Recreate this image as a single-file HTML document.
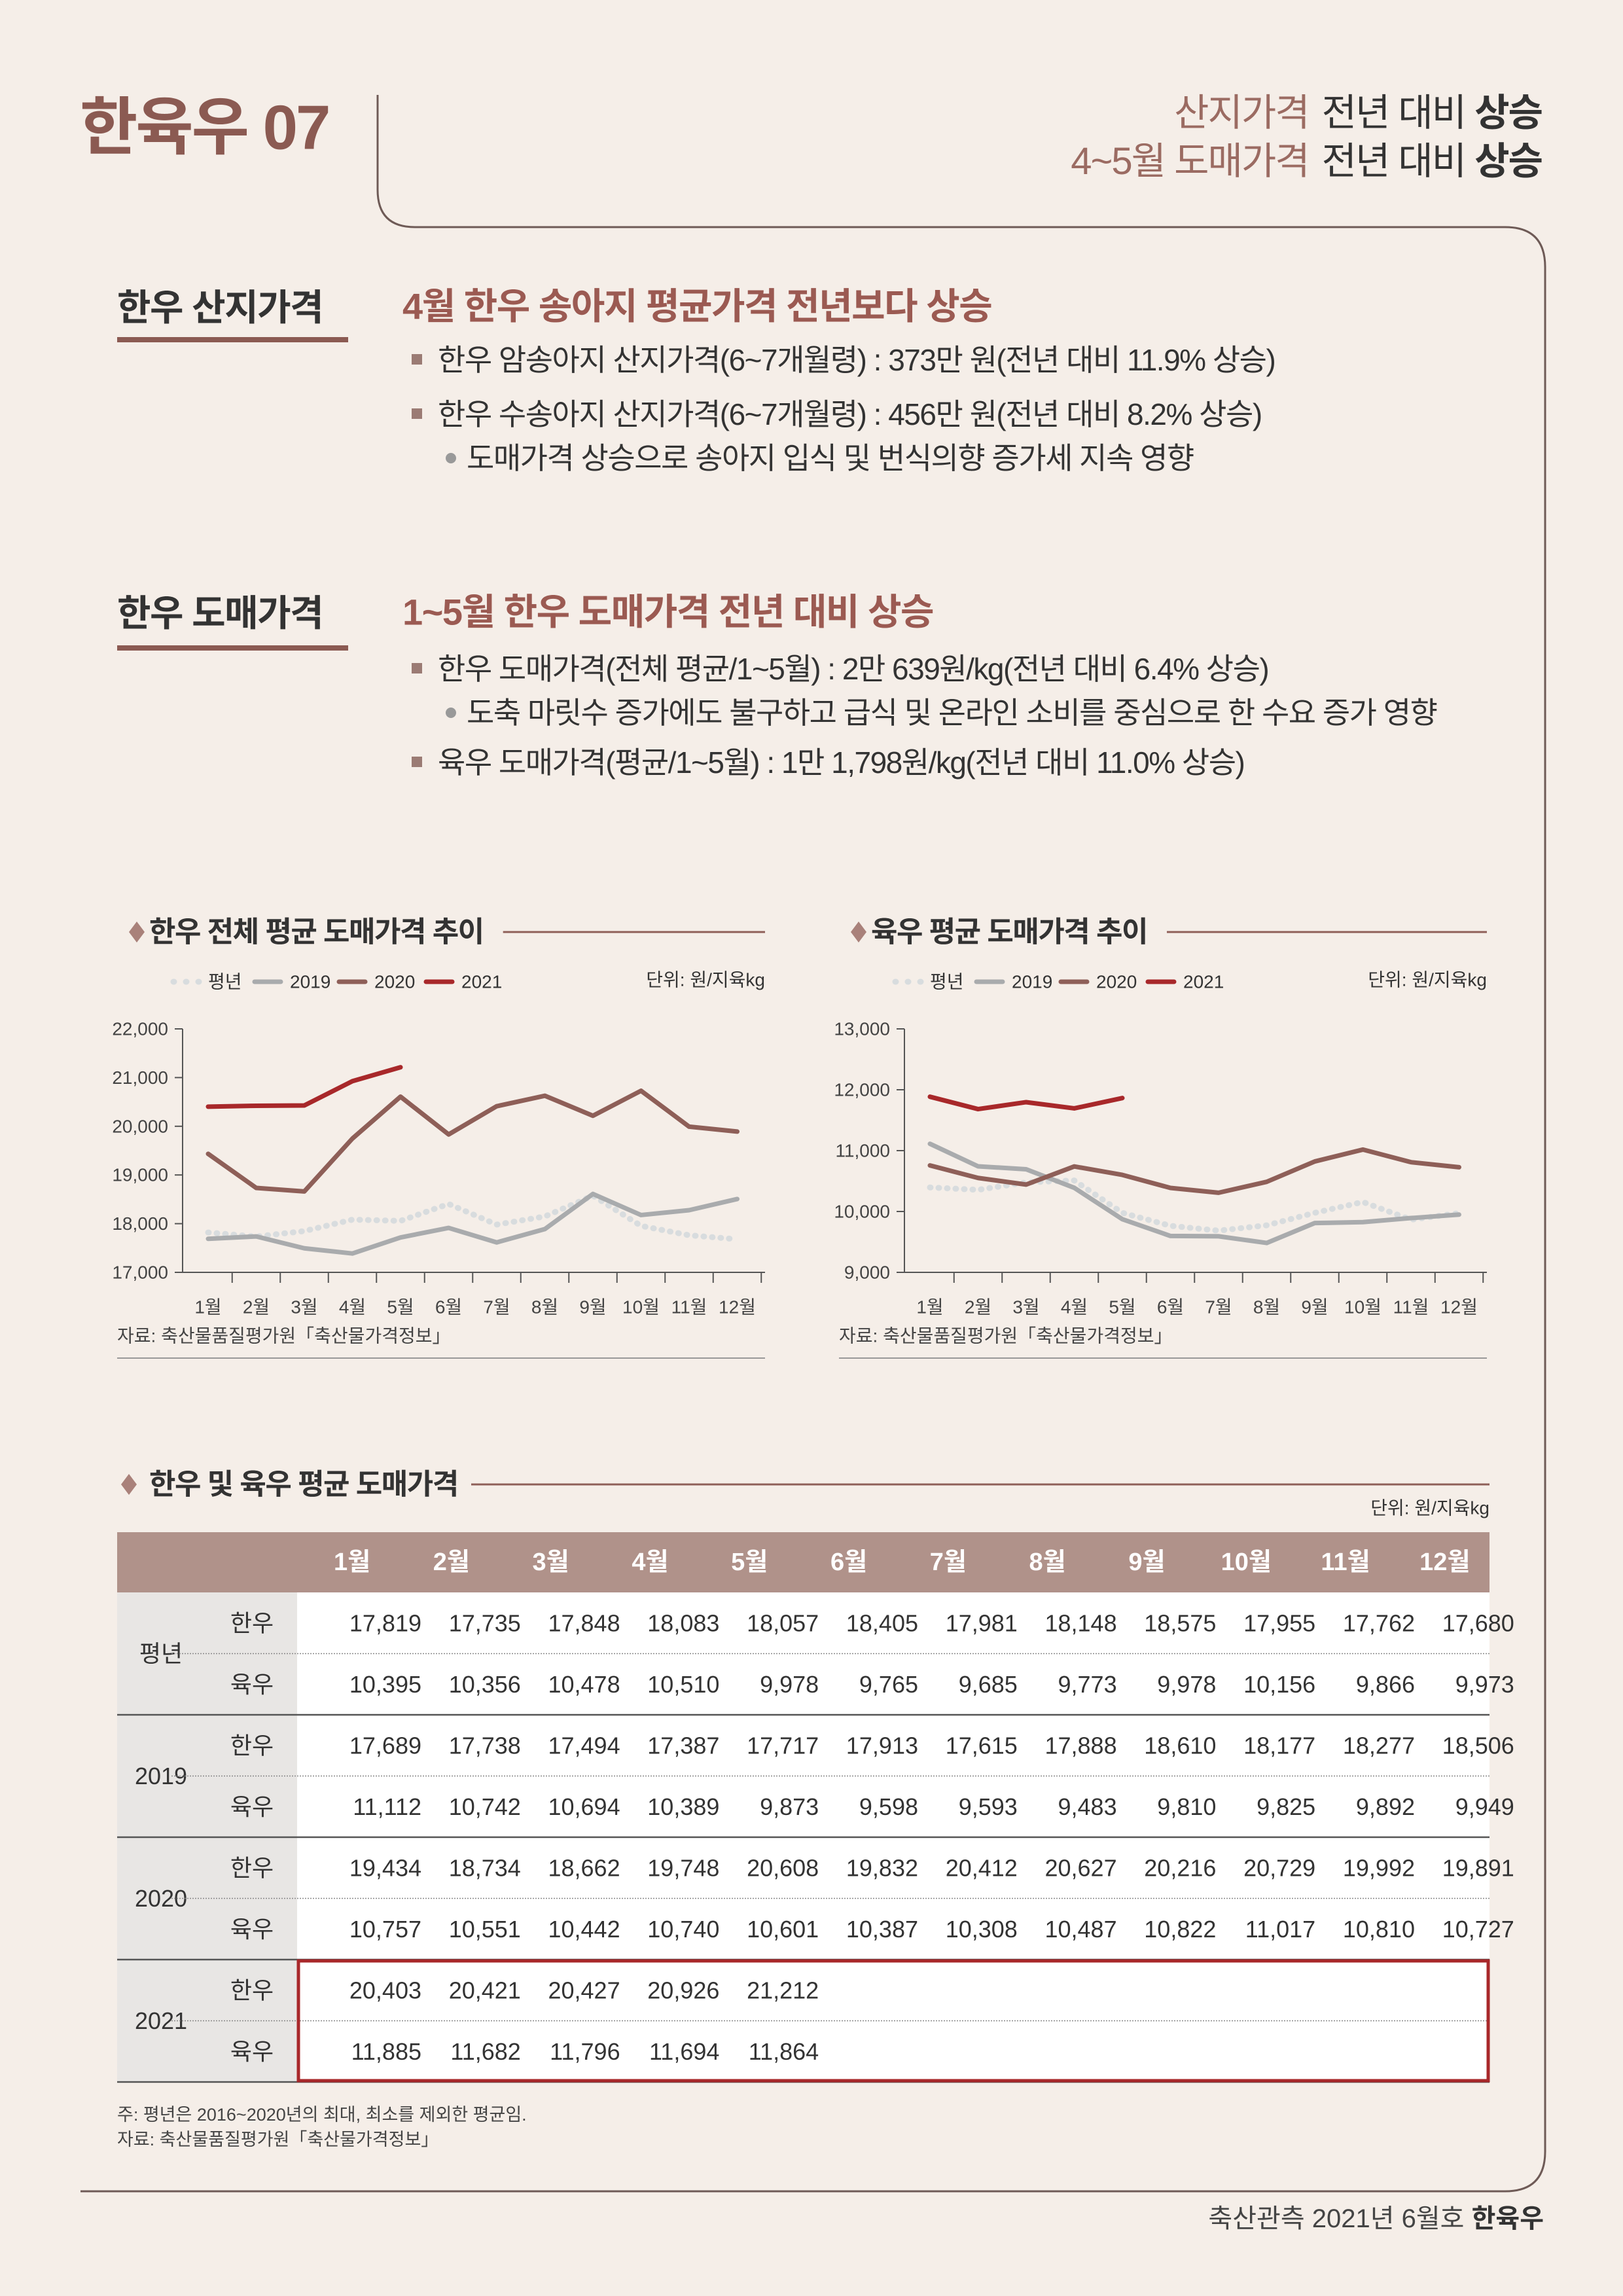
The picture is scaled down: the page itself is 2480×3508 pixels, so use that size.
<!DOCTYPE html>
<html><head><meta charset="utf-8">
<style>
html,body{margin:0;padding:0;background:#f5eee8;}
svg{display:block;}
text{font-family:"Liberation Sans Narrow","Liberation Sans","Noto Sans CJK KR",sans-serif;}
.k{font-family:"Liberation Sans","Noto Sans CJK KR",sans-serif;}
</style></head>
<body>
<svg id="page" width="2480" height="3508" viewBox="0 0 2480 3508" xmlns="http://www.w3.org/2000/svg">
<rect width="2480" height="3508" fill="#f5eee8"/>
<path d="M577 145 V290 Q577 347 634 347 H2300 Q2361 347 2361 408 V3287 Q2361 3348 2300 3348 H123" fill="none" stroke="#6e5a56" stroke-width="3"/>
<text class="k" x="122" y="195" font-size="96" font-weight="bold" fill="#8b5a52" dominant-baseline="central" letter-spacing="-3">한육우 07</text>
<text class="k" x="2356" y="172" font-size="58" text-anchor="end" dominant-baseline="central" letter-spacing="-2"><tspan fill="#9b6b62">산지가격</tspan><tspan fill="#333" dx="20">전년 대비 </tspan><tspan fill="#333" font-weight="bold">상승</tspan></text>
<text class="k" x="2356" y="246" font-size="58" text-anchor="end" dominant-baseline="central" letter-spacing="-2"><tspan fill="#9b6b62">4~5월 도매가격</tspan><tspan fill="#333" dx="20">전년 대비 </tspan><tspan fill="#333" font-weight="bold">상승</tspan></text>

<g class="k" font-size="46" fill="#333" letter-spacing="-1.5">
<text x="179" y="470" font-size="56" font-weight="bold" dominant-baseline="central" fill="#333">한우 산지가격</text>
<rect x="179" y="515" width="353" height="8" fill="#8b5a52"/>
<text x="615" y="468" font-size="56" font-weight="bold" fill="#9b5a52" dominant-baseline="central">4월 한우 송아지 평균가격 전년보다 상승</text>
<rect x="629" y="541" width="16" height="16" fill="#9b7b74"/>
<text x="669" y="550" dominant-baseline="central">한우 암송아지 산지가격(6~7개월령) : 373만 원(전년 대비 11.9% 상승)</text>
<rect x="629" y="624" width="16" height="16" fill="#9b7b74"/>
<text x="669" y="633" dominant-baseline="central">한우 수송아지 산지가격(6~7개월령) : 456만 원(전년 대비 8.2% 상승)</text>
<circle cx="689" cy="700" r="8" fill="#999"/>
<text x="713" y="700" dominant-baseline="central">도매가격 상승으로 송아지 입식 및 번식의향 증가세 지속 영향</text>
</g>
<g class="k" font-size="46" fill="#333" letter-spacing="-1.5">
<text x="179" y="937" font-size="56" font-weight="bold" dominant-baseline="central">한우 도매가격</text>
<rect x="179" y="986" width="353" height="8" fill="#8b5a52"/>
<text x="615" y="935" font-size="56" font-weight="bold" fill="#9b5a52" dominant-baseline="central">1~5월 한우 도매가격 전년 대비 상승</text>
<rect x="629" y="1013" width="16" height="16" fill="#9b7b74"/>
<text x="669" y="1022" dominant-baseline="central">한우 도매가격(전체 평균/1~5월) : 2만 639원/kg(전년 대비 6.4% 상승)</text>
<circle cx="689" cy="1089" r="8" fill="#999"/>
<text x="713" y="1089" dominant-baseline="central">도축 마릿수 증가에도 불구하고 급식 및 온라인 소비를 중심으로 한 수요 증가 영향</text>
<rect x="629" y="1156" width="16" height="16" fill="#9b7b74"/>
<text x="669" y="1165" dominant-baseline="central">육우 도매가격(평균/1~5월) : 1만 1,798원/kg(전년 대비 11.0% 상승)</text>
</g>
<g id="charts"></g>
<g id="table"></g>
<text x="179" y="3231" font-size="27" fill="#444" dominant-baseline="central">주: 평년은 2016~2020년의 최대, 최소를 제외한 평균임.</text>
<text x="179" y="3269" font-size="27" fill="#444" dominant-baseline="central">자료: 축산물품질평가원「축산물가격정보」</text>
<text x="2359" y="3390" font-size="40" fill="#444" text-anchor="end" dominant-baseline="central">축산관측 2021년 6월호 <tspan font-weight="bold" class="k" fill="#333">한육우</tspan></text>
</svg>
<script>
const months = ['1월','2월','3월','4월','5월','6월','7월','8월','9월','10월','11월','12월'];
const hanwooAvg = [17819,17735,17848,18083,18057,18405,17981,18148,18575,17955,17762,17680];
const hanwoo2019 = [17689,17738,17494,17387,17717,17913,17615,17888,18610,18177,18277,18506];
const hanwoo2020 = [19434,18734,18662,19748,20608,19832,20412,20627,20216,20729,19992,19891];
const hanwoo2021 = [20403,20421,20427,20926,21212];
const yukuAvg = [10395,10356,10478,10510,9978,9765,9685,9773,9978,10156,9866,9973];
const yuku2019 = [11112,10742,10694,10389,9873,9598,9593,9483,9810,9825,9892,9949];
const yuku2020 = [10757,10551,10442,10740,10601,10387,10308,10487,10822,11017,10810,10727];
const yuku2021 = [11885,11682,11796,11694,11864];
const hanwooTicks = [17000,18000,19000,20000,21000,22000];
const yukuTicks = [9000,10000,11000,12000,13000];
const seriesNames = ['평년','2019','2020','2021'];
const NS='http://www.w3.org/2000/svg';
function mk(parent,tag,attrs,txt){const e=document.createElementNS(NS,tag);for(const k in attrs)e.setAttribute(k,attrs[k]);if(txt!==undefined)e.textContent=txt;parent.appendChild(e);return e;}
const styles=[{c:'#d8dcde',dash:'1 12',w:9},{c:'#a9abad',dash:'',w:7},{c:'#8e5f58',dash:'',w:7},{c:'#a8282a',dash:'',w:7}];
function chart(ox,title,ticks,series,name){
  const g=mk(document.getElementById('charts'),'g',{});
  
  
  const axX=ox+279, right=ox+1169, top=1572, bot=1944, x0=ox+318, dx=73.5;
  const vmin=ticks[0], vmax=ticks[ticks.length-1];
  const y=v=>bot-(v-vmin)/(vmax-vmin)*(bot-top);
  const x=i=>x0+i*dx;
  const d=mk(g,'path',{d:`M${ox+197} 1424 l12 -16 l12 16 l-12 16z`,fill:'#a9817a'});
  
  const t=mk(g,'text',{x:ox+228,y:1424,'font-size':44,'font-weight':'bold',fill:'#333','dominant-baseline':'central','class':'k','letter-spacing':'-1.5'},title);
  
  const bb=t.getBBox();
  const tl=mk(g,'line',{x1:bb.x+bb.width+30,x2:right,y1:1424,y2:1424,stroke:'#8e5f58','stroke-width':3});
  
  // legend
  const lx=[ox+265,ox+389,ox+518,ox+651];
  seriesNames.forEach((n,i)=>{
    const s=styles[i];
    const l=mk(g,'line',{x1:lx[i],x2:lx[i]+40,y1:1500,y2:1500,stroke:s.c,'stroke-width':s.w,'stroke-linecap':'round','stroke-dasharray':i==0?'1 18':''});
    
    const lt=mk(g,'text',{x:lx[i]+(i==0?53:54),y:1500,'font-size':28,fill:'#333','dominant-baseline':'central'},n);
    
  });
  const u=mk(g,'text',{x:right,y:1497,'font-size':28,fill:'#333','text-anchor':'end','dominant-baseline':'central'},'단위: 원/지육kg');
  
  // axes
  const ya=mk(g,'line',{x1:axX,x2:axX,y1:top,y2:bot,stroke:'#555','stroke-width':2});
  
  const xa=mk(g,'line',{x1:axX-12,x2:right,y1:bot,y2:bot,stroke:'#555','stroke-width':2});
  
  ticks.forEach(v=>{
    mk(g,'line',{x1:axX-12,x2:axX,y1:y(v),y2:y(v),stroke:'#555','stroke-width':2});
    const tt=mk(g,'text',{x:axX-22,y:y(v),'font-size':28,fill:'#444','text-anchor':'end','dominant-baseline':'central'},v.toLocaleString('en-US'));
    
  });
  months.forEach((m,i)=>{
    mk(g,'line',{x1:x(i)+dx/2,x2:x(i)+dx/2,y1:bot,y2:bot+16,stroke:'#555','stroke-width':2});
    const mt=mk(g,'text',{x:x(i),y:1997,'font-size':28,fill:'#444','text-anchor':'middle','dominant-baseline':'central'},m);
    
  });
  series.forEach((arr,si)=>{
    const s=styles[si];
    const p=mk(g,'polyline',{points:arr.map((v,i)=>x(i)+','+y(v)).join(' '),fill:'none',stroke:s.c,'stroke-width':s.w,'stroke-linejoin':'round','stroke-linecap':'round','stroke-dasharray':s.dash});
    
  });
  const src=mk(g,'text',{x:ox+179,y:2041,'font-size':28,fill:'#444','dominant-baseline':'central'},'자료: 축산물품질평가원「축산물가격정보」');
  
  const bl=mk(g,'line',{x1:ox+179,x2:right,y1:2075,y2:2075,stroke:'#999','stroke-width':2});
  
}
chart(0,'한우 전체 평균 도매가격 추이',hanwooTicks,[hanwooAvg,hanwoo2019,hanwoo2020,hanwoo2021],'hanwoo-chart');
chart(1103,'육우 평균 도매가격 추이',yukuTicks,[yukuAvg,yuku2019,yuku2020,yuku2021],'yuku-chart');

// table
(function(){
  const g=document.getElementById('table');
  const d=mk(g,'path',{d:'M185 2268 l12 -16 l12 16 l-12 16z',fill:'#a9817a'});
  
  const t=mk(g,'text',{x:228,y:2268,'font-size':44,'font-weight':'bold',fill:'#333','dominant-baseline':'central','class':'k','letter-spacing':'-1.5'},'한우 및 육우 평균 도매가격');
  
  const tl=mk(g,'line',{x1:720,x2:2276,y1:2268,y2:2268,stroke:'#8e5f58','stroke-width':3});
  
  const u=mk(g,'text',{x:2276,y:2304,'font-size':28,fill:'#333','text-anchor':'end','dominant-baseline':'central'},'단위: 원/지육kg');
  
  const L=179,R=2276,hT=2341,hB=2433,rh=187,cx0=610,cdx=151.8;
  const hdr=mk(g,'rect',{x:L,y:hT,width:R-L,height:hB-hT,fill:'#b0928a'});
  
  months.forEach((m,i)=>{
    const e=mk(g,'text',{x:cx0-80+i*cdx+8,y:(hT+hB)/2,'font-size':38,'font-weight':'bold',fill:'#fff','text-anchor':'middle','dominant-baseline':'central'},m);
    
  });
  mk(g,'rect',{x:L,y:hB,width:275,height:rh*4,fill:'#e8e6e4'});
  mk(g,'rect',{x:454,y:hB,width:R-454,height:rh*4,fill:'#ffffff'});
  const groups=[['평년',hanwooAvg,yukuAvg],['2019',hanwoo2019,yuku2019],['2020',hanwoo2020,yuku2020],['2021',hanwoo2021,yuku2021]];
  groups.forEach((gr,gi)=>{
    const y0=hB+gi*rh;
    const yl=mk(g,'text',{x:246,y:y0+rh/2,'font-size':36,fill:'#333','text-anchor':'middle','dominant-baseline':'central'},gr[0]);
    
    mk(g,'line',{x1:262,x2:R,y1:y0+rh/2,y2:y0+rh/2,stroke:'#888','stroke-width':1.5,'stroke-dasharray':'2 2'});
    if(gi<3) mk(g,'line',{x1:L,x2:R,y1:y0+rh,y2:y0+rh,stroke:'#555','stroke-width':2.5});
    [['한우',gr[1]],['육우',gr[2]]].forEach((r,ri)=>{
      const cy=y0+rh/4+ri*rh/2;
      const sl=mk(g,'text',{x:385,y:cy,'font-size':36,fill:'#333','text-anchor':'middle','dominant-baseline':'central'},r[0]);
      
      r[1].forEach((v,i)=>{
        const c=mk(g,'text',{x:cx0-24+i*cdx+10+48,y:cy,'font-size':36,fill:'#333','text-anchor':'end','dominant-baseline':'central'},v.toLocaleString('en-US'));
        
      });
    });
  });
  mk(g,'line',{x1:L,x2:R,y1:hB+rh*4,y2:hB+rh*4,stroke:'#555','stroke-width':2.5});
  const box=mk(g,'rect',{x:456,y:hB+rh*3+2,width:R-458,height:rh-4,fill:'none',stroke:'#a8282a','stroke-width':5});
  
})();
</script>
</body></html>
